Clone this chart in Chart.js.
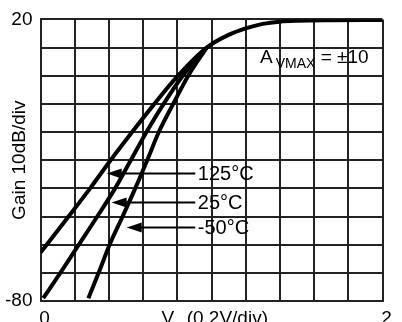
<!DOCTYPE html>
<html>
<head>
<meta charset="utf-8">
<script src="https://cdn.jsdelivr.net/npm/chart.js@4/dist/chart.umd.min.js"></script>
<style>
  html, body { margin: 0; padding: 0; background: #fff; overflow: hidden; }
  #wrap { width: 402px; height: 322px; }
</style>
</head>
<body>
<div id="wrap"><canvas id="chart" width="402" height="322"></canvas></div>
<script>
// gain curves (x in volts, 0.2V/div; y in dB)
const hotX  = [0, 0.036, 0.164, 0.29, 0.41, 0.536, 0.666, 0.804, 0.972, 1.1, 1.2, 1.3, 1.4, 1.5, 1.7, 2.0];
const hotY  = [-62.8, -60, -50, -40, -30, -20, -10, 0, 10, 14.5, 16.8, 18.4, 19.2, 19.5, 19.7, 19.8];
const roomX = [0.016, 0.116, 0.224, 0.332, 0.436, 0.528, 0.62, 0.72, 0.832, 0.972];
const roomY = [-79, -70, -60, -50, -40, -30, -20, -10, 0, 10];
const coldX = [0.28, 0.34, 0.404, 0.48, 0.554, 0.624, 0.692, 0.776, 0.864, 0.972];
const coldY = [-79, -70, -60, -50, -40, -30, -20, -10, 0, 10];

// arrow labels
const tempLabels = ['125°C', '25°C', '-50°C'];
const arrowTipX = [0.387, 0.416, 0.504];
const arrowY = [-34.7, -45, -53.9];
const arrowTailX = 0.905;
const labelX = 0.914;

// tick labels that are printed
const yTickShown = [20, -80];
const xTickShown = [0, 2];

const FONT = "'Liberation Sans', Arial, Helvetica, sans-serif";
Chart.defaults.font.family = FONT;
Chart.defaults.color = '#000';

function toPoints(xs, ys) {
  return xs.map((v, i) => ({ x: v, y: ys[i] }));
}

function curve(label, xs, ys) {
  return {
    label: label,
    data: toPoints(xs, ys),
    borderColor: '#000',
    borderWidth: 4,
    pointRadius: 0,
    fill: false,
    cubicInterpolationMode: 'monotone'
  };
}

const notes = {
  id: 'notes',
  afterDatasetsDraw(chart) {
    const { ctx, chartArea } = chart;
    const x = chart.scales.x, y = chart.scales.y;
    ctx.save();
    ctx.fillStyle = '#000';
    ctx.strokeStyle = '#000';

    // temperature arrows + labels
    tempLabels.forEach((t, i) => {
      const yy = y.getPixelForValue(arrowY[i]);
      const tip = x.getPixelForValue(arrowTipX[i]);
      const tail = x.getPixelForValue(arrowTailX);
      ctx.lineWidth = 2;
      ctx.beginPath();
      ctx.moveTo(tip + 10, yy);
      ctx.lineTo(tail, yy);
      ctx.stroke();
      ctx.beginPath();
      ctx.moveTo(tip, yy);
      ctx.lineTo(tip + 15, yy - 5);
      ctx.lineTo(tip + 15, yy + 5);
      ctx.closePath();
      ctx.fill();
      ctx.font = '20px ' + FONT;
      ctx.textBaseline = 'middle';
      ctx.textAlign = 'left';
      ctx.fillText(t, x.getPixelForValue(labelX) + 1, yy + 1);
    });

    // A VMAX = ±10
    const ax = x.getPixelForValue(1.284);
    const ay = y.getPixelForValue(4.67);
    ctx.textBaseline = 'alphabetic';
    ctx.font = '19px ' + FONT;
    ctx.fillText('A', ax, ay);
    let w = ctx.measureText('A').width;
    ctx.font = '14px ' + FONT;
    ctx.fillText('VMAX', ax + w + 3, ay + 5);
    w += 3 + ctx.measureText('VMAX').width;
    ctx.font = '19px ' + FONT;
    ctx.fillText(' = ±10', ax + w, ay);

    // x axis title, cut off by the bottom edge like the scan
    const tx = chartArea.left + 121;
    const ty = chartArea.bottom + 18;
    ctx.font = '19px ' + FONT;
    ctx.textBaseline = 'middle';
    ctx.fillText('V', tx, ty);
    let vw = ctx.measureText('V').width;
    ctx.font = '13px ' + FONT;
    ctx.fillText('g', tx + vw, ty + 7);
    vw += ctx.measureText('g').width;
    ctx.font = '19px ' + FONT;
    ctx.fillText(' (0.2V/div)', tx + vw, ty);
    ctx.restore();
  }
};

const ctx = document.getElementById('chart').getContext('2d');
new Chart(ctx, {
  type: 'line',
  data: {
    datasets: [
      curve('125°C', hotX, hotY),
      curve('25°C', roomX, roomY),
      curve('-50°C', coldX, coldY)
    ]
  },
  options: {
    responsive: false,
    animation: false,
    layout: { padding: { top: 14, right: 19.5, left: 0, bottom: 0 } },
    plugins: {
      legend: { display: false },
      tooltip: { enabled: false }
    },
    scales: {
      x: {
        type: 'linear',
        min: 0,
        max: 2,
        afterFit(scale) { scale.height = 21; },
        grid: { color: '#222', lineWidth: 2, drawTicks: false },
        border: { display: true, color: '#222', width: 2 },
        ticks: {
          stepSize: 0.2,
          autoSkip: false,
          maxRotation: 0,
          padding: 6,
          labelOffset: 4,
          font: { size: 19 },
          callback: v => xTickShown.some(s => Math.abs(s - v) < 1e-6) ? String(Math.round(v)) : ''
        }
      },
      y: {
        min: -80,
        max: 20,
        afterFit(scale) { scale.width = 40.5; },
        grid: { color: '#222', lineWidth: 2, drawTicks: false },
        border: { display: true, color: '#222', width: 2 },
        ticks: {
          stepSize: 10,
          autoSkip: false,
          padding: 8,
          font: { size: 19 },
          callback: v => yTickShown.includes(v) ? String(v) : ''
        },
        title: {
          display: true,
          text: 'Gain 10dB/div',
          font: { size: 19 },
          padding: { top: 8.6, bottom: 0 }
        }
      }
    }
  },
  plugins: [notes]
});
</script>
</body>
</html>
